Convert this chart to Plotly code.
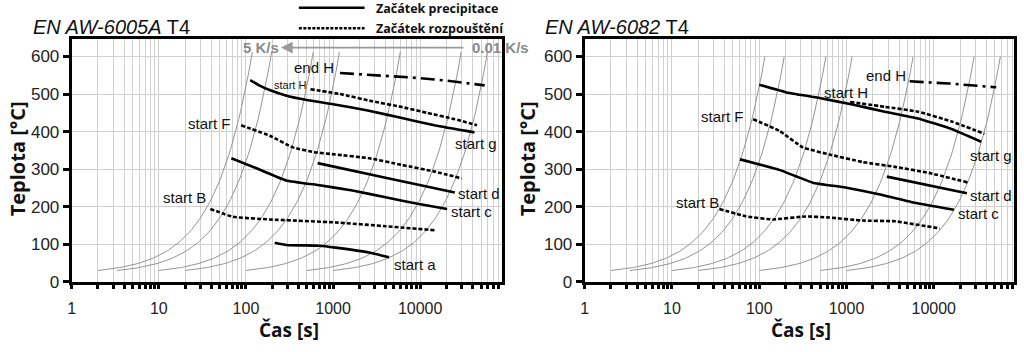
import numpy as np
import plotly.graph_objects as go

# ---------------- data ----------------
# constant heating-rate guide curves (K/s): T = T_room + rate * t
rates = [5, 3, 1, 0.5, 0.1, 0.02, 0.01]
rate_t_start = [2, 3.3, 10, 20, 100, 500, 1000]
T_room = 20
T_top = [612, 600]  # upper end of guide curves (left, right panel)

# EN AW-6005A T4
L_g_t = [112, 140, 190, 280, 500, 1000, 2500, 6000, 15000, 42000]
L_g_T = [537, 524, 510, 497, 484, 473, 456, 437, 416, 398]
L_H_t = [550, 1200, 2800, 6000, 12000, 25000, 45000]
L_H_T = [513, 500, 481, 466, 450, 433, 417]
L_endH_t = [1200, 3000, 8000, 20000, 55000]
L_endH_T = [556, 551, 544, 536, 523]
L_F_t = [88, 188, 345, 615, 1070, 2600, 6200, 15000, 30000]
L_F_T = [417, 389, 358, 345, 339, 329, 311, 293, 275]
L_c_t = [68, 130, 290, 700, 1670, 4000, 9700, 20400]
L_c_T = [329, 303, 270, 257, 243, 225, 207, 194]
L_d_t = [665, 4000, 25000]
L_d_T = [316, 277, 238]
L_B_t = [39, 71, 188, 1070, 4000, 15000]
L_B_T = [194, 173, 166, 158, 148, 137]
L_a_t = [214, 290, 700, 1070, 2600, 4400]
L_a_T = [104, 98, 96, 91, 78, 65]

# EN AW-6082 T4
R_g_t = [100, 200, 475, 1170, 2750, 6600, 16000, 35000]
R_g_T = [525, 505, 490, 472, 453, 435, 407, 373]
R_H_t = [1100, 2750, 6600, 16000, 38000]
R_H_T = [479, 466, 453, 427, 394]
R_endH_t = [5300, 15000, 52000]
R_endH_T = [534, 528, 518]
R_F_t = [85, 170, 315, 635, 1520, 3600, 8800, 25000]
R_F_T = [433, 402, 358, 339, 319, 306, 290, 264]
R_c_t = [60, 170, 410, 970, 2350, 5600, 17000]
R_c_T = [326, 298, 264, 251, 233, 212, 192]
R_d_t = [2900, 24000]
R_d_T = [280, 236]
R_B_t = [35, 71, 142, 340, 635, 1520, 3600, 11700]
R_B_T = [194, 174, 166, 174, 171, 163, 161, 142]

x_major = [1, 10, 100, 1000, 10000]
x_major_text = ["1", "10", "100", "1000", "10000"]
y_ticks = [0, 100, 200, 300, 400, 500, 600]

titles = ["<i>EN AW-6005A</i> T4", "<i>EN AW-6082</i> T4"]
legend_labels = ["Začátek precipitace", "Začátek rozpouštění"]

# ---------------- styling ----------------
NARROW = "Liberation Sans Narrow, Arial Narrow, Liberation Sans, Arial"
BOLD = "Open Sans, Noto Sans, sans-serif"
SOLID = dict(color="black", width=2.6, shape="spline", smoothing=0.35)
DOT = dict(color="black", width=2.6, dash="4px,2px", shape="spline", smoothing=0.35)
DASHDOT = dict(color="black", width=2.6, dash="14px,5px,3px,5px")

fig = go.Figure()

def guide_curves(xa, ya, ttop):
    for r, ts in zip(rates, rate_t_start):
        te = (ttop - T_room) / r
        t = np.geomspace(ts, te, 80)
        fig.add_trace(go.Scatter(x=t, y=T_room + r * t, mode="lines",
                                 line=dict(color="#949494", width=1),
                                 xaxis=xa, yaxis=ya, hoverinfo="skip"))

guide_curves("x", "y", T_top[0])
guide_curves("x2", "y2", T_top[1])

left_series = [(L_g_t, L_g_T, SOLID), (L_H_t, L_H_T, DOT), (L_endH_t, L_endH_T, DASHDOT),
               (L_F_t, L_F_T, DOT), (L_c_t, L_c_T, SOLID), (L_d_t, L_d_T, SOLID),
               (L_B_t, L_B_T, DOT), (L_a_t, L_a_T, SOLID)]
right_series = [(R_g_t, R_g_T, SOLID), (R_H_t, R_H_T, DOT), (R_endH_t, R_endH_T, DASHDOT),
                (R_F_t, R_F_T, DOT), (R_c_t, R_c_T, SOLID), (R_d_t, R_d_T, SOLID),
                (R_B_t, R_B_T, DOT)]
for t, T, ln in left_series:
    fig.add_trace(go.Scatter(x=t, y=T, mode="lines", line=ln, xaxis="x", yaxis="y"))
for t, T, ln in right_series:
    fig.add_trace(go.Scatter(x=t, y=T, mode="lines", line=ln, xaxis="x2", yaxis="y2"))

# ticks
x_tickvals, x_ticktext = [], []
for p in range(0, 5):
    for k in range(1, 10):
        v = k * 10 ** p
        x_tickvals.append(v)
        x_ticktext.append(x_major_text[x_major.index(v)] if v in x_major else "")

W, H = 1024, 352
ydom = [1 - 290 / H, 1 - 40 / H]

def xaxis(dom, rng, anchor):
    return dict(type="log", domain=dom, range=rng, anchor=anchor,
                tickvals=x_tickvals, ticktext=x_ticktext, ticks="outside",
                ticklen=4, tickwidth=2.5, tickcolor="black", ticklabelstandoff=6,
                showline=True, linewidth=3, linecolor="black", mirror=True,
                showgrid=True, gridcolor="#d0d0d0", gridwidth=1, zeroline=False,
                tickfont=dict(family=NARROW, size=16, color="#222"))

def yaxis(anchor):
    return dict(domain=ydom, range=[0, 647], anchor=anchor, tickvals=y_ticks,
                ticks="outside", ticklen=6, tickwidth=3, tickcolor="black",
                showline=True, linewidth=3, linecolor="black", mirror=True,
                showgrid=True, gridcolor="#d0d0d0", gridwidth=1, zeroline=False,
                tickfont=dict(family=NARROW, size=17, color="#222"))

fig.update_layout(
    width=W, height=H, margin=dict(l=0, r=0, t=0, b=0),
    paper_bgcolor="white", plot_bgcolor="white", showlegend=False,
    xaxis=xaxis([68 / W, 500 / W], [0, 4.94], "y"),
    yaxis=yaxis("x"),
    xaxis2=xaxis([583 / W, 1014 / W], [0, 4.92], "y2"),
    yaxis2=yaxis("x2"),
)

ann = []
lab = dict(family=NARROW, size=15, color="#111")
def dl(text, xr, yr, lx, T, xanchor, size=15):
    ann.append(dict(text=text, x=lx, y=T, xref=xr, yref=yr, xanchor=xanchor,
                    yanchor="middle", showarrow=False, font=dict(lab, size=size)))

# left panel labels (x in log10 units)
dl("end H", "x", "y", 3.03, 570, "right")
dl("start H", "x", "y", 2.71, 524, "right", 11)
dl("start F", "x", "y", 1.85, 422, "right")
dl("start g", "x", "y", 4.38, 368, "left")
dl("start d", "x", "y", 4.41, 236, "left")
dl("start c", "x", "y", 4.33, 187, "left")
dl("start B", "x", "y", 1.57, 225, "right")
dl("start a", "x", "y", 3.68, 47, "left")
# right panel labels
dl("end H", "x2", "y2", 3.70, 549, "right")
dl("start H", "x2", "y2", 2.72, 505, "left")
dl("start F", "x2", "y2", 1.85, 440, "right")
dl("start g", "x2", "y2", 4.39, 337, "left")
dl("start d", "x2", "y2", 4.39, 231, "left")
dl("start c", "x2", "y2", 4.25, 181, "left")
dl("start B", "x2", "y2", 1.56, 212, "right")

# titles
for txt, x0 in zip(titles, [27, 541]):
    ann.append(dict(text=txt, x=x0 / W, y=1 - 28 / H, xref="paper", yref="paper",
                    xanchor="left", yanchor="middle", showarrow=False,
                    font=dict(family="Liberation Sans, Arial", size=20, color="#111")))
# axis titles
for xc in [286, 800]:
    ann.append(dict(text="<b>Čas [s]</b>", x=xc / W, y=1 - 340 / H, xref="paper", yref="paper",
                    xanchor="center", yanchor="middle", showarrow=False,
                    font=dict(family=BOLD, size=19, color="#111")))
for xc in [13, 525]:
    ann.append(dict(text="<b>Teplota [°C]</b>", x=xc / W, y=1 - 163 / H, xref="paper", yref="paper",
                    xanchor="center", yanchor="middle", showarrow=False, textangle=-90,
                    font=dict(family=BOLD, size=20, color="#111")))
# rate arrow
ann.append(dict(text="", x=278 / W, y=1 - 49 / H, xref="paper", yref="paper",
                ax=184, ay=0, axref="pixel", ayref="pixel", showarrow=True,
                arrowhead=2, arrowsize=1.3, arrowwidth=1.8, arrowcolor="#999"))
ann.append(dict(text="<b>5 K/s</b>", x=258 / W, y=1 - 49 / H, xref="paper", yref="paper",
                xanchor="center", yanchor="middle", showarrow=False,
                font=dict(family="Liberation Sans, Arial", size=15, color="#8a8a8a")))
ann.append(dict(text="<b>0.01 K/s</b>", x=468 / W, y=1 - 49 / H, xref="paper", yref="paper",
                xanchor="left", yanchor="middle", showarrow=False,
                font=dict(family="Liberation Sans, Arial", size=15, color="#8a8a8a")))
# legend
for txt, yy in zip(legend_labels, [9, 29]):
    ann.append(dict(text="<b>" + txt + "</b>", x=372 / W, y=1 - yy / H, xref="paper", yref="paper",
                    xanchor="left", yanchor="middle", showarrow=False, borderpad=0,
                    font=dict(family=BOLD, size=12.5, color="#111")))
shapes = [
    dict(type="line", xref="paper", yref="paper", x0=296 / W, x1=362 / W,
         y0=1 - 8 / H, y1=1 - 8 / H, line=dict(color="black", width=2.6)),
    dict(type="line", xref="paper", yref="paper", x0=296 / W, x1=362 / W,
         y0=1 - 29 / H, y1=1 - 29 / H, line=dict(color="black", width=2.6, dash="3px,1.5px")),
]
fig.update_layout(annotations=ann, shapes=shapes)

fig.write_html("out.html")
